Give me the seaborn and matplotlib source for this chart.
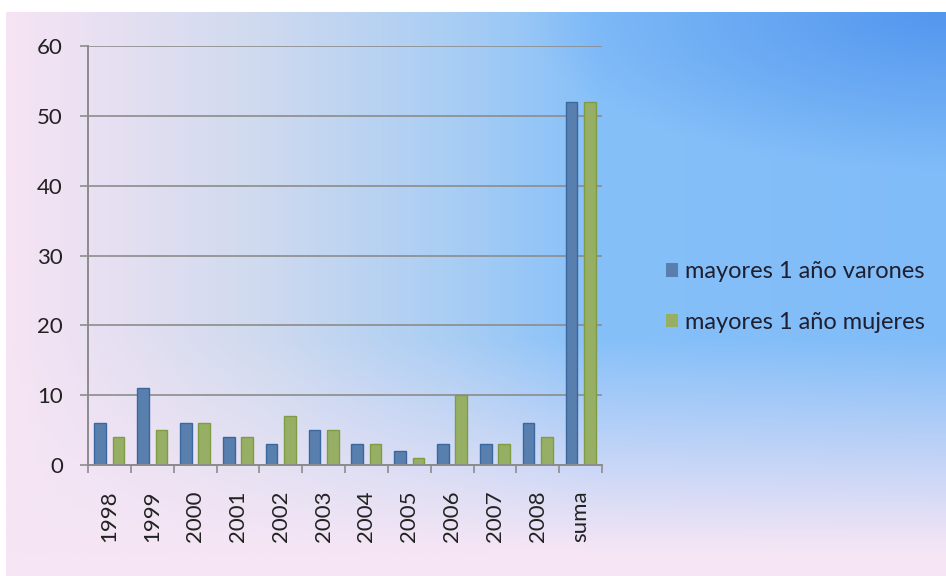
import numpy as np
import pandas as pd
import matplotlib
matplotlib.use("Agg")
import matplotlib.pyplot as plt
from matplotlib.colors import LinearSegmentedColormap, to_rgb
from matplotlib.ticker import FixedLocator
import seaborn as sns

# data
years = ["1998", "1999", "2000", "2001", "2002", "2003", "2004", "2005",
         "2006", "2007", "2008", "suma"]
varones = [6, 11, 6, 4, 3, 5, 3, 2, 3, 3, 6, 52]
mujeres = [4, 5, 6, 4, 7, 5, 3, 1, 10, 3, 4, 52]
series_names = ["mayores 1 año varones", "mayores 1 año mujeres"]

df = pd.DataFrame({
    "year": years * 2,
    "value": varones + mujeres,
    "serie": [series_names[0]] * len(years) + [series_names[1]] * len(years),
})

sns.set_theme(style="white")
plt.rcParams["font.family"] = ["Lato", "DejaVu Sans"]

fig = plt.figure(figsize=(9.46, 5.76), dpi=100)

# gradient background: pink -> blue left to right, darker blue top right,
# fading back to pink at the bottom
gx, gy = np.meshgrid(np.linspace(0, 1, 480), np.linspace(0, 1, 300))  # gy=0 top
hcmap = LinearSegmentedColormap.from_list(
    "h", [(0, "#f6e4f4"), (0.27, "#cfdaef"), (0.48, "#a8cdf4"),
          (0.63, "#86c0f9"), (1.0, "#80bcf8")])
img = hcmap(gx)[..., :3]
d = np.sqrt((1 - gx) ** 2 + (gy * 1.6) ** 2)
w_tr = np.clip(1 - d / 0.45, 0, 1)[..., None]
img = img * (1 - w_tr) + np.array(to_rgb("#5396ee")) * w_tr
w_b = np.clip((gy - 0.58) / 0.38, 0, 1)[..., None]
img = img * (1 - w_b) + np.array(to_rgb("#f6e6f5")) * w_b

bg = fig.add_axes([6 / 946, 0, 1 - 6 / 946, 1 - 12 / 576], zorder=0)
bg.imshow(img, aspect="auto", extent=(0, 1, 0, 1))
bg.axis("off")

ax = fig.add_axes([88 / 946, 1 - 465 / 576, (602 - 88) / 946, (465 - 46) / 576], zorder=1)
ax.patch.set_alpha(0)

sns.barplot(data=df, x="year", y="value", hue="serie",
            palette=["#4a7ebb", "#9bbb59"], width=0.86, gap=0.37,
            linewidth=0, ax=ax, legend=True)
# darker outline like the 3D bars
for bar, ec in zip(ax.patches, ["#3a679e"] * 12 + ["#7f9c44"] * 12):
    bar.set_edgecolor(ec)
    bar.set_linewidth(1.0)

ax.set_ylim(0, 60)
ax.set_yticks(range(0, 61, 10))
ax.set_xlim(-0.5, len(years) - 0.5)
ax.yaxis.grid(True, color="#8c8c8c", linewidth=1.2)
ax.set_axisbelow(True)
ax.set_xlabel("")
ax.set_ylabel("")

for side in ["top", "right"]:
    ax.spines[side].set_visible(False)
for side in ["left", "bottom"]:
    ax.spines[side].set_color("#8c8c8c")
    ax.spines[side].set_linewidth(1.4)

ax.tick_params(axis="y", which="major", length=6, width=1.2, color="#8c8c8c",
               labelsize=16, labelcolor="#222222", pad=12, left=True)
ax.tick_params(axis="x", which="major", length=0, labelsize=16,
               labelcolor="#222222", pad=18, rotation=90)
ax.xaxis.set_minor_locator(FixedLocator(np.arange(-0.5, len(years), 1)))
ax.tick_params(axis="x", which="minor", length=6, width=1.2, color="#8c8c8c",
               bottom=True)

leg = ax.legend(loc="center left", bbox_to_anchor=(645 / 946, 1 - 297 / 576),
                bbox_transform=fig.transFigure, frameon=False, fontsize=17,
                handlelength=0.5, handleheight=0.5, handletextpad=0.3,
                labelspacing=1.25)
for txt in leg.get_texts():
    txt.set_color("#1f1f2f")

fig.savefig("out.png", dpi=100)
